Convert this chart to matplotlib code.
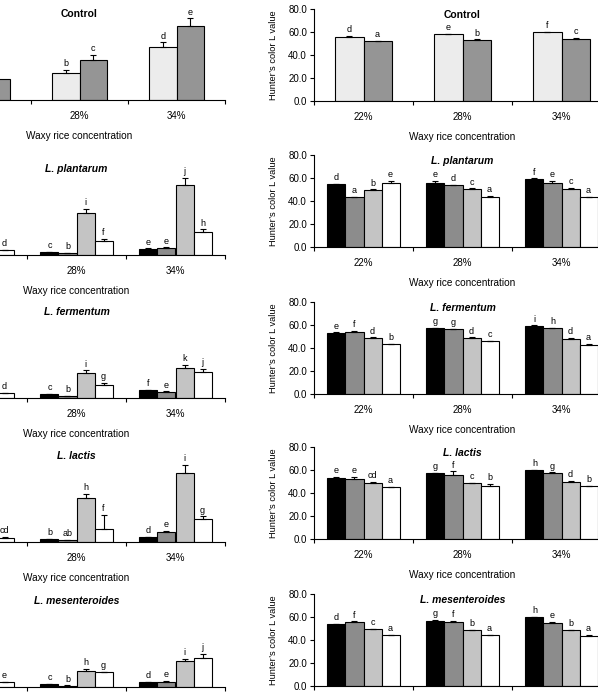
import matplotlib
matplotlib.use("Agg")
import matplotlib.pyplot as plt
import numpy as np

plt.rcParams['font.family'] = ['Liberation Sans', 'DejaVu Sans']

groups = ['22%', '28%', '34%']
titles = ['Control', 'L. plantarum', 'L. fermentum', 'L. lactis', 'L. mesenteroides']

# left column (y axis is outside the picture), one list per bar series over the 3 groups
left_ctrl = [[15.0, 23.2, 45.8], [18.3, 34.8, 64.3]]
left_ctrl_err = [[2.0, 2.6, 4.3], [2.5, 4.3, 6.7]]
left_ctrl_let = [['a', 'b', 'd'], ['a', 'c', 'e']]

left_plan = [[2.0, 2.3, 5.2], [1.5, 1.4, 6.1], [8.0, 36.2, 60.9], [4.3, 12.2, 20.3]]
left_plan_err = [[0.3, 0.4, 0.5], [0.3, 0.3, 0.5], [1.0, 3.8, 6.4], [0.4, 1.5, 2.0]]
left_plan_let = [['b', 'c', 'e'], ['a', 'b', 'e'], ['g', 'i', 'j'], ['d', 'f', 'h']]

left_ferm = [[2.0, 3.2, 6.7], [1.5, 1.7, 5.2], [6.0, 21.7, 26.1], [4.3, 11.6, 22.6]]
left_ferm_err = [[0.3, 0.4, 0.5], [0.3, 0.3, 0.5], [0.8, 2.3, 2.9], [0.4, 1.7, 2.6]]
left_ferm_let = [['b', 'c', 'f'], ['a', 'b', 'e'], ['h', 'i', 'k'], ['d', 'g', 'j']]

left_lact = [[2.0, 2.6, 4.3], [1.5, 1.4, 9.0], [6.0, 38.3, 60.3], [3.8, 11.6, 20.3]]
left_lact_err = [[0.3, 0.3, 0.4], [0.3, 0.3, 0.5], [0.8, 3.2, 6.7], [0.4, 11.6, 2.0]]
left_lact_let = [['c', 'b', 'd'], ['a', 'ab', 'e'], ['f', 'h', 'i'], ['cd', 'f', 'g']]

left_mese = [[2.0, 2.6, 4.3], [1.5, 1.2, 4.6], [6.0, 14.2, 22.3], [4.3, 13.0, 25.5]]
left_mese_err = [[0.3, 0.3, 0.3], [0.3, 0.2, 0.5], [0.8, 1.5, 2.3], [0.4, 0.4, 2.9]]
left_mese_let = [['c', 'c', 'd'], ['a', 'b', 'e'], ['f', 'h', 'i'], ['e', 'g', 'j']]

# right column: Hunter's color L value
lval_ctrl = [[56.0, 58.1, 59.9], [52.3, 53.4, 54.0]]
lval_ctrl_err = [[0.3, 0.3, 0.2], [0.3, 0.2, 0.6]]
lval_ctrl_let = [['d', 'e', 'f'], ['a', 'b', 'c']]

lval_plan = [[54.8, 56.0, 59.2], [43.4, 53.7, 56.0], [49.6, 50.4, 50.7], [55.7, 43.6, 43.4]]
lval_plan_err = [[0.4, 1.2, 0.5], [0.3, 0.6, 1.5], [0.5, 0.6, 0.6], [1.8, 1.0, 0.3]]
lval_plan_let = [['d', 'e', 'f'], ['a', 'd', 'e'], ['b', 'c', 'c'], ['e', 'a', 'a']]

lval_ferm = [[53.1, 57.1, 59.1], [54.0, 56.3, 57.1], [48.9, 48.9, 48.0], [43.7, 45.7, 42.9]]
lval_ferm_err = [[0.5, 0.4, 0.5], [0.6, 0.4, 0.6], [0.3, 0.3, 0.6], [0.2, 0.5, 1.0]]
lval_ferm_let = [['e', 'g', 'i'], ['f', 'g', 'h'], ['d', 'd', 'd'], ['b', 'c', 'a']]

lval_lact = [[53.2, 57.3, 59.9], [52.6, 55.8, 57.6], [48.8, 48.3, 50.0], [45.0, 46.2, 46.2]]
lval_lact_err = [[0.6, 0.5, 0.2], [1.2, 3.0, 0.3], [0.6, 0.4, 0.3], [0.5, 1.5, 0.3]]
lval_lact_let = [['e', 'g', 'h'], ['e', 'f', 'g'], ['cd', 'c', 'd'], ['a', 'b', 'b']]

lval_mese = [[53.6, 56.8, 60.0], [55.4, 55.4, 54.8], [49.3, 48.4, 48.7], [44.3, 44.0, 43.5]]
lval_mese_err = [[0.3, 0.3, 0.2], [0.8, 1.2, 0.6], [0.3, 0.3, 0.3], [0.4, 0.3, 0.6]]
lval_mese_let = [['d', 'g', 'h'], ['f', 'f', 'e'], ['c', 'b', 'b'], ['a', 'a', 'a']]

colors2 = ['#ececec', '#959595']
colors4 = ['#000000', '#8c8c8c', '#c4c4c4', '#ffffff']

FW, FH = 598, 697
fig = plt.figure(figsize=(FW / 100, FH / 100), dpi=100)


def add_axes(x0, x1, base):
    return fig.add_axes([x0 / FW, 1 - base / FH, (x1 - x0) / FW, 92 / FH])


def draw_panel(ax, vals, errs, lets, title, ylim, show_xlabel=True, ylabel=None):
    n = len(vals)
    colors = colors2 if n == 2 else colors4
    w = 0.284 if n == 2 else 0.182
    x = np.arange(len(groups)) + 0.5
    for i in range(n):
        xi = x + (i - (n - 1) / 2) * w
        ax.bar(xi, vals[i], width=w, color=colors[i], edgecolor='black', linewidth=0.8, zorder=2)
        ax.errorbar(xi, vals[i], yerr=[np.zeros(len(groups)), errs[i]], fmt='none',
                    ecolor='black', elinewidth=0.8, capsize=2, capthick=0.8, zorder=3)
        for xx, v, e, t in zip(xi, vals[i], errs[i], lets[i]):
            ax.text(xx, v + e + ylim * 0.02, t, ha='center', va='bottom', fontsize=6.5)
    ax.set_xlim(0, len(groups))
    ax.set_ylim(0, ylim)
    ax.set_xticks(x)
    ax.set_xticklabels(groups, fontsize=7)
    ax.set_xticks(np.arange(len(groups) + 1), minor=True)
    ax.tick_params(axis='x', which='major', length=0, pad=8)
    ax.tick_params(axis='x', which='minor', length=3, direction='out', width=0.8)
    ax.spines['top'].set_visible(False)
    ax.spines['right'].set_visible(False)
    ax.spines['left'].set_linewidth(0.8)
    ax.spines['bottom'].set_linewidth(0.8)
    ax.set_yticks(np.arange(0, ylim + 1, 20))
    ax.set_yticklabels(['%.1f' % t for t in np.arange(0, ylim + 1, 20)], fontsize=7)
    ax.tick_params(axis='y', length=3, direction='out', width=0.8, pad=2)
    style = 'normal' if title == 'Control' else 'italic'
    ax.text(0.5, 0.99, title, transform=ax.transAxes, ha='center', va='top',
            fontsize=7.5, fontweight='bold', fontstyle=style)
    if show_xlabel:
        ax.set_xlabel('Waxy rice concentration', fontsize=7.2, labelpad=7)
    if ylabel:
        ax.set_ylabel(ylabel, fontsize=6.7, labelpad=7)


left_sets = [(left_ctrl, left_ctrl_err, left_ctrl_let), (left_plan, left_plan_err, left_plan_let),
             (left_ferm, left_ferm_err, left_ferm_let), (left_lact, left_lact_err, left_lact_let),
             (left_mese, left_mese_err, left_mese_let)]
right_sets = [(lval_ctrl, lval_ctrl_err, lval_ctrl_let), (lval_plan, lval_plan_err, lval_plan_let),
              (lval_ferm, lval_ferm_err, lval_ferm_let), (lval_lact, lval_lact_err, lval_lact_let),
              (lval_mese, lval_mese_err, lval_mese_let)]

left_base = [100, 255, 398, 542, 687]
left_x0 = [-66, -72, -72, -72, -72]
right_base = [101, 247, 394, 539, 686]

for r in range(5):
    axl = add_axes(left_x0[r], 225, left_base[r])
    v, e, l = left_sets[r]
    draw_panel(axl, v, e, l, titles[r], 80)
    axr = add_axes(314, 611, right_base[r])
    v, e, l = right_sets[r]
    draw_panel(axr, v, e, l, titles[r], 80, ylabel='Hunter\u2019s color L value')

fig.savefig('out.png', dpi=100)
